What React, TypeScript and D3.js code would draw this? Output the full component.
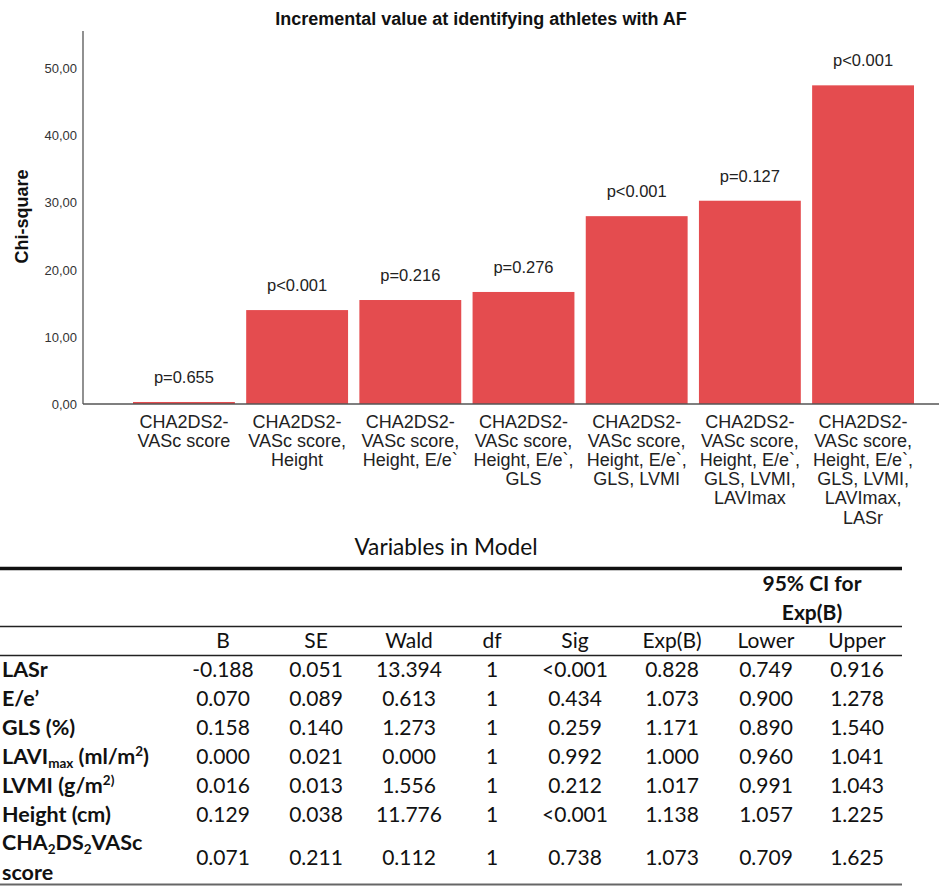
import React, { useLayoutEffect } from "react";
import * as d3 from "d3";

// ---------- data ----------
const categories: string[][] = [
  ["CHA2DS2-", "VASc score"],
  ["CHA2DS2-", "VASc score,", "Height"],
  ["CHA2DS2-", "VASc score,", "Height, E/e`"],
  ["CHA2DS2-", "VASc score,", "Height, E/e`,", "GLS"],
  ["CHA2DS2-", "VASc score,", "Height, E/e`,", "GLS, LVMI"],
  ["CHA2DS2-", "VASc score,", "Height, E/e`,", "GLS, LVMI,", "LAVImax"],
  ["CHA2DS2-", "VASc score,", "Height, E/e`,", "GLS, LVMI,", "LAVImax,", "LASr"],
];
const chiSquare = [0.3, 14.0, 15.5, 16.7, 28.0, 30.3, 47.5];
const pLabels = ["p=0.655", "p<0.001", "p=0.216", "p=0.276", "p<0.001", "p=0.127", "p<0.001"];
const yTicks = [0, 10, 20, 30, 40, 50];
const yMax = 55.6;

const chartTitle = "Incremental value at identifying athletes with AF";
const yTitle = "Chi-square";
const tableTitle = "Variables in Model";
const ciHeader = ["95% CI for", "Exp(B)"];
const tableColumns = ["B", "SE", "Wald", "df", "Sig", "Exp(B)", "Lower", "Upper"];
const rowKeys = ["LASr", "E/e'", "GLS", "LAVImax", "LVMI", "Height", "CHA2DS2VASc"];
const rowValues: string[][] = [
  ["-0.188", "0.051", "13.394", "1", "<0.001", "0.828", "0.749", "0.916"],
  ["0.070", "0.089", "0.613", "1", "0.434", "1.073", "0.900", "1.278"],
  ["0.158", "0.140", "1.273", "1", "0.259", "1.171", "0.890", "1.540"],
  ["0.000", "0.021", "0.000", "1", "0.992", "1.000", "0.960", "1.041"],
  ["0.016", "0.013", "1.556", "1", "0.212", "1.017", "0.991", "1.043"],
  ["0.129", "0.038", "11.776", "1", "<0.001", "1.138", "1.057", "1.225"],
  ["0.071", "0.211", "0.112", "1", "0.738", "1.073", "0.709", "1.625"],
];

// ---------- layout ----------
const W = 939;
const H = 886;
const ARIAL = "'Liberation Sans', Arial, sans-serif";
const CAL = "Lato, 'Open Sans', sans-serif";
const BAR = "#E44C4F";
const colX = [223, 316, 409, 492, 575, 672, 766, 857];
const tableRight = 902;

const fmtComma = (v: number) => d3.format(".2f")(v).replace(".", ",");

function RowLabel({ k, y }: { k: string; y: number }) {
  const common = { x: 2, y, fontFamily: CAL, fontWeight: 700, fontSize: 21.5, fill: "#111" } as any;
  if (k === "LASr") return <text {...common}>LASr</text>;
  if (k === "E/e'") return <text {...common}>E/e’</text>;
  if (k === "GLS") return <text {...common}>GLS (%)</text>;
  if (k === "LAVImax")
    return (
      <text {...common}>
        LAVI<tspan fontSize={13.5} dy={4}>max</tspan>
        <tspan dy={-4}> (ml/m</tspan>
        <tspan fontSize={13.5} dy={-8}>2</tspan>
        <tspan dy={8}>)</tspan>
      </text>
    );
  if (k === "LVMI")
    return (
      <text {...common}>
        LVMI (g/m<tspan fontSize={13.5} dy={-8}>2)</tspan>
      </text>
    );
  if (k === "Height") return <text {...common}>Height (cm)</text>;
  return (
    <g>
      <text {...common} y={y - 15}>
        CHA<tspan fontSize={13.5} dy={4}>2</tspan>
        <tspan dy={-4}>DS</tspan>
        <tspan fontSize={13.5} dy={4}>2</tspan>
        <tspan dy={-4}>VASc</tspan>
      </text>
      <text {...common} y={y + 15}>score</text>
    </g>
  );
}

export default function App() {
  useLayoutEffect(() => {
    document.body.style.margin = "0";
  }, []);

  const x = d3
    .scaleBand<number>()
    .domain(chiSquare.map((_, i) => i))
    .range([133, 914])
    .paddingInner(0.1)
    .paddingOuter(0);
  const y = d3.scaleLinear().domain([0, yMax]).range([404, 31]);

  const axisX = 83;
  const labelBase = 428;
  const lineH = 19.1;

  const rowY0 = 677;
  const rowStep = 28.9;

  return (
    <svg width={W} height={H} style={{ display: "block" }}>
      <rect width={W} height={H} fill="#fff" />
      {/* title */}
      <text x={481} y={25} textAnchor="middle" fontFamily={ARIAL} fontWeight={700} fontSize={18} fill="#111">
        {chartTitle}
      </text>
      {/* y title */}
      <text
        transform={`translate(28,${216.5}) rotate(-90)`}
        textAnchor="middle"
        fontFamily={ARIAL}
        fontWeight={700}
        fontSize={18}
        fill="#111"
      >
        {yTitle}
      </text>
      {/* ticks */}
      {yTicks.map((t) => (
        <text
          key={t}
          x={77}
          y={y(t)}
          dy="0.36em"
          textAnchor="end"
          fontFamily={ARIAL}
          fontSize={13}
          fill="#333"
        >
          {fmtComma(t)}
        </text>
      ))}
      {/* bars */}
      {chiSquare.map((v, i) => (
        <rect key={i} x={x(i)!} y={y(v)} width={x.bandwidth()} height={y(0) - y(v)} fill={BAR} />
      ))}
      {/* p labels */}
      {chiSquare.map((v, i) => (
        <text
          key={i}
          x={x(i)! + x.bandwidth() / 2}
          y={y(v) - 19}
          textAnchor="middle"
          fontFamily={ARIAL}
          fontSize={16.5}
          fill="#222"
        >
          {pLabels[i]}
        </text>
      ))}
      {/* axes */}
      <line x1={axisX} x2={axisX} y1={y(yMax)} y2={y(0)} stroke="#555" strokeWidth={1.3} />
      <line x1={axisX} x2={W} y1={y(0)} y2={y(0)} stroke="#555" strokeWidth={1.3} />
      {/* category labels */}
      {categories.map((lines, i) => (
        <text
          key={i}
          textAnchor="middle"
          fontFamily={ARIAL}
          fontSize={18}
          fill="#222"
        >
          {lines.map((l, j) => (
            <tspan key={j} x={x(i)! + x.bandwidth() / 2} y={labelBase + j * lineH}>
              {l}
            </tspan>
          ))}
        </text>
      ))}

      {/* ---------- table ---------- */}
      <text x={446} y={555} textAnchor="middle" fontFamily={CAL} fontSize={22.7} fill="#111">
        {tableTitle}
      </text>
      <line x1={0} x2={tableRight} y1={568.5} y2={568.5} stroke="#111" strokeWidth={3.5} />
      <text x={812} y={590.5} textAnchor="middle" fontFamily={CAL} fontWeight={700} fontSize={21} fill="#111">
        {ciHeader[0]}
      </text>
      <text x={812} y={620} textAnchor="middle" fontFamily={CAL} fontWeight={700} fontSize={21} fill="#111">
        {ciHeader[1]}
      </text>
      <line x1={0} x2={tableRight} y1={626.5} y2={626.5} stroke="#222" strokeWidth={1.6} />
      {tableColumns.map((c, i) => (
        <text key={c} x={colX[i]} y={648} textAnchor="middle" fontFamily={CAL} fontSize={21} fill="#111">
          {c}
        </text>
      ))}
      <line x1={0} x2={tableRight} y1={655.5} y2={655.5} stroke="#222" strokeWidth={1.6} />
      {rowKeys.map((k, r) => {
        const yy = r < 6 ? rowY0 + r * rowStep : rowY0 + 5 * rowStep + 43;
        return (
          <g key={k}>
            <RowLabel k={k} y={yy} />
            {rowValues[r].map((v, c) => (
              <text key={c} x={colX[c]} y={yy} textAnchor="middle" fontFamily={CAL} fontSize={21} fill="#111">
                {v}
              </text>
            ))}
          </g>
        );
      })}
      <line x1={0} x2={tableRight} y1={884.5} y2={884.5} stroke="#666" strokeWidth={2} />
    </svg>
  );
}
